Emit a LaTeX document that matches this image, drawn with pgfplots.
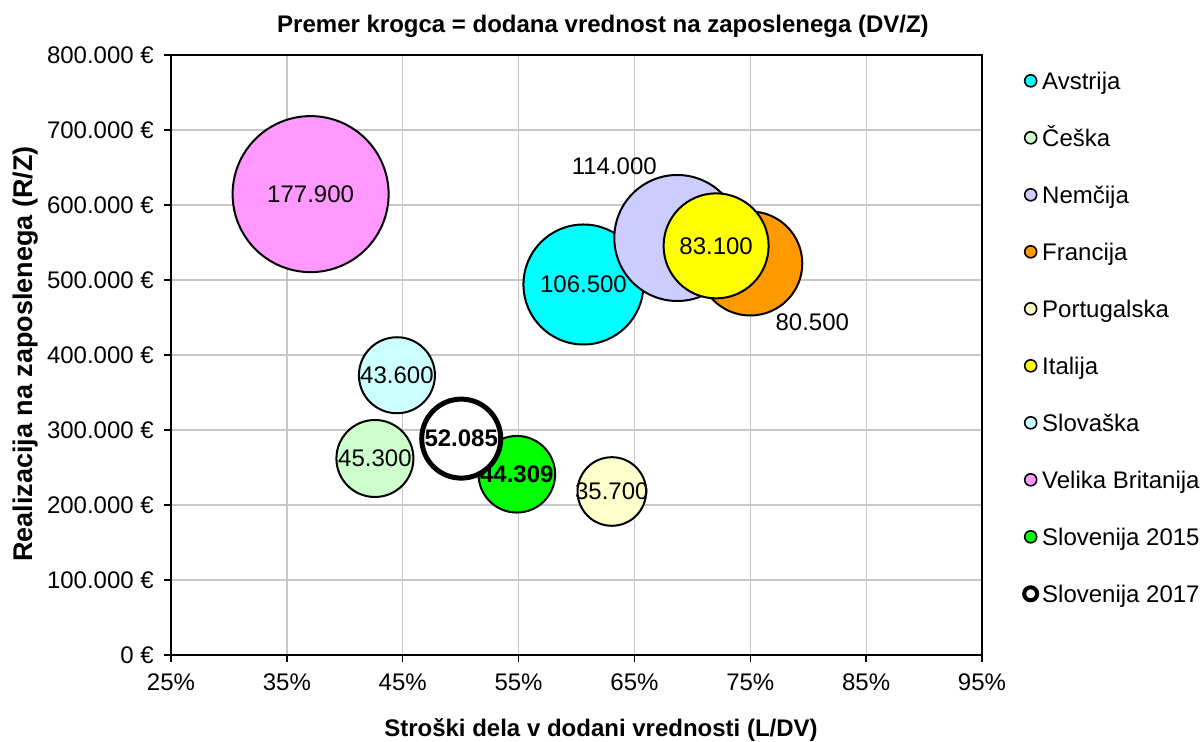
\documentclass[border=0pt]{standalone}
\usepackage{pgfplots}
\pgfplotsset{compat=1.18}
\usepackage{fontspec}
\setmainfont{Liberation Sans}
\definecolor{cAvs}{HTML}{00FFFF}
\definecolor{cCes}{HTML}{CCFFCC}
\definecolor{cNem}{HTML}{CCCCFF}
\definecolor{cFra}{HTML}{FF9900}
\definecolor{cPor}{HTML}{FFFFCC}
\definecolor{cIta}{HTML}{FFFF00}
\definecolor{cSlk}{HTML}{CCFFFF}
\definecolor{cVB}{HTML}{FF99FF}
\definecolor{cS15}{HTML}{00FF00}
\newcommand\fs{\fontsize{24bp}{28bp}\selectfont}
\pgfplotsset{
  bub/.style n args={4}{only marks, mark=*, mark size=#2bp, solid,
    mark options={solid, fill=#1, draw=black, line width=#4bp},
    nodes near coords={#3},
    every node near coord/.append style={anchor=center, font=\fs, text=black, inner sep=0pt},
    legend image code/.code={\draw[solid, fill=#1, draw=black, line width=1.6bp] (6bp,2.5bp) circle (6bp);}},
}
\begin{document}
\fs
\begin{tikzpicture}[x=1bp,y=1bp]
\path[use as bounding box] (0,0) rectangle (1202,742);
\begin{axis}[
  at={(171bp,87bp)}, anchor=south west,
  scale only axis, width=811bp, height=600bp,
  xmin=25, xmax=95, ymin=0, ymax=800000,
  xtick={25,35,45,55,65,75,85,95},
  xticklabels={25\%,35\%,45\%,55\%,65\%,75\%,85\%,95\%},
  ytick={0,100000,200000,300000,400000,500000,600000,700000,800000},
  yticklabels={0 €,100.000 €,200.000 €,300.000 €,400.000 €,500.000 €,600.000 €,700.000 €,800.000 €},
  scaled y ticks=false,
  grid=major, major grid style={draw=black!22, line width=1.3bp},
  axis line style={line width=2.5bp},
  tick style={black, line width=1.5bp}, major tick length=7bp, tick align=outside,
  xtick pos=lower, ytick pos=left,
  tick label style={font=\fs, inner sep=0pt},
  xticklabel style={anchor=north, yshift=-12bp},
  yticklabel style={anchor=east, xshift=-10bp},
  clip=false,
  legend cell align=left,
  legend style={draw=none, fill=none, font=\fs, inner sep=0pt,
    at={(1.0493,0.9723)}, anchor=north west, row sep=34bp,
    nodes={inner sep=0pt, text height=18bp, text depth=5bp},
    /tikz/every odd column/.style={column sep=3bp}},
]
\addplot[bub={cAvs}{60}{106.500}{2}] coordinates {(60.6,494000)};
\addlegendentry{Avstrija}
\addplot[bub={cCes}{38.5}{45.300}{2}] coordinates {(42.6,262000)};
\addlegendentry{Češka}
\addplot[bub={cNem}{63}{114.000}{2}, every node near coord/.append style={xshift=-63bp, yshift=72bp}] coordinates {(68.7,556000)};
\addlegendentry{Nemčija}
\addplot[bub={cFra}{52}{80.500}{2}, every node near coord/.append style={xshift=62bp, yshift=-59bp}] coordinates {(75.0,522000)};
\addlegendentry{Francija}
\addplot[bub={cPor}{34.3}{35.700}{2}] coordinates {(63.05,218000)};
\addlegendentry{Portugalska}
\addplot[bub={cIta}{52.5}{83.100}{2}] coordinates {(72.05,545500)};
\addlegendentry{Italija}
\addplot[bub={cSlk}{38}{43.600}{2}] coordinates {(44.5,373000)};
\addlegendentry{Slovaška}
\addplot[bub={cVB}{78}{177.900}{2}] coordinates {(37.05,614500)};
\addlegendentry{Velika Britanija}
\addplot[bub={cS15}{38.3}{\bfseries 44.309}{2}] coordinates {(54.85,241000)};
\addlegendentry{Slovenija 2015}
\addplot[bub={white}{39.5}{\bfseries 52.085}{5},
  legend image code/.code={\draw[solid, fill=white, draw=black, line width=4bp] (6bp,2.5bp) circle (6.5bp);}] coordinates {(50.05,288500)};
\addlegendentry{Slovenija 2017}
\end{axis}
\node[font=\fs\bfseries, anchor=base] at (603,742-33) {Premer krogca = dodana vrednost na zaposlenega (DV/Z)};
\node[font=\fs\bfseries, anchor=base] at (601,5) {Stroški dela v dodani vrednosti (L/DV)};
\node[font=\fontsize{27bp}{31bp}\selectfont\bfseries, anchor=base, rotate=90] at (32,388) {Realizacija na zaposlenega (R/Z)};
\end{tikzpicture}
\end{document}
